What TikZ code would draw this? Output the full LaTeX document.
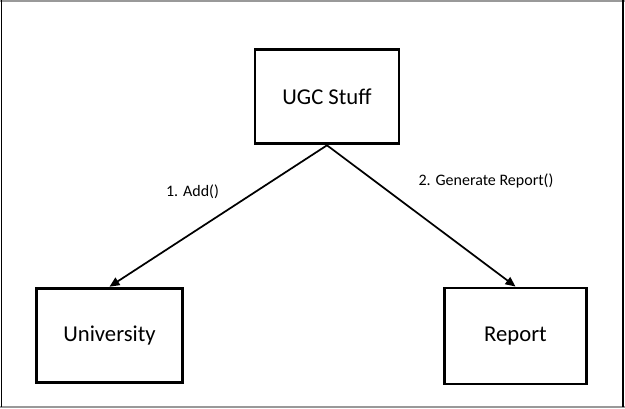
\documentclass[tikz,border=0pt]{standalone}
\usepackage{fontspec}
\setmainfont{Carlito}
\usetikzlibrary{arrows.meta, positioning}

\tikzset{
  box/.style={draw=black, line width=2.2pt, fill=white, font=\fontsize{17}{20}\selectfont, inner sep=0pt},
  call/.style={-{Triangle[length=7.5pt, width=6.5pt]}, line width=1.3pt},
  msg/.style={font=\fontsize{12}{14}\selectfont, inner sep=0pt}
}

\begin{document}
\begin{tikzpicture}[x=0.75pt, y=-0.75pt]

% Frame
\useasboundingbox (0,0) rectangle (625,409);
\fill[white] (0,0) rectangle (625,409);
\draw[gray!80, line width=1.5pt] (0,1) -- (625,1);
\draw[gray!80, line width=1.5pt] (0,407.5) -- (625,407.5);
\draw[black, line width=1.2pt] (1.5,0) -- (1.5,407);
\draw[black, line width=1.2pt] (623,0) -- (623,407);

% Boxes
\node[box, minimum width=108pt, minimum height=71pt] (ugc) at (327,96.5) {UGC Stuff};
\node[box, minimum width=109pt, minimum height=71pt] (uni) at (109.5,335.5) {University};
\node[box, minimum width=107pt, minimum height=72pt] (rep) at (515.5,336) {Report};

% Calls
\draw[call] (ugc.south) -- (uni.north);
\draw[call] (ugc.south) -- (rep.north);

% Labels
\node[msg] (add) at (192.5,192) {1. Add()};
\node[msg] (gen) at (486,181) {2. Generate Report()};

\end{tikzpicture}
\end{document}
